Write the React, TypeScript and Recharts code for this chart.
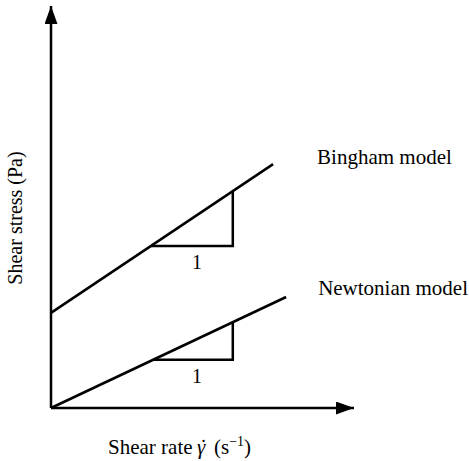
import React from 'react';
import {
  LineChart,
  Line,
  XAxis,
  YAxis,
  ReferenceLine,
  ReferenceDot
} from 'recharts';

// axis extents (arbitrary units, no ticks drawn)
const xDomain = [0, 10];
const yDomain = [0, 13.4];

// Bingham: yield stress + linear viscosity
const binghamX = [0, 7.33];
const binghamY = [3.17, 8.13];

// Newtonian: straight line through the origin
const newtonianX = [0, 7.76];
const newtonianY = [0, 3.7];

// slope triangles (unit run markers)
const binghamTriX = [3.3, 6.0, 6.0];
const binghamTriY = [5.4, 5.4, 7.23];
const newtonianTriX = [3.37, 6.0, 6.0];
const newtonianTriY = [1.61, 1.61, 2.86];

const unitLabelX = 4.82;
const seriesNames = ['Bingham model', 'Newtonian model'];

const toPoints = (xs: number[], ys: number[]) => xs.map((x, i) => ({ x, y: ys[i] }));

const bingham = toPoints(binghamX, binghamY);
const newtonian = toPoints(newtonianX, newtonianY);
const binghamTri = toPoints(binghamTriX, binghamTriY);
const newtonianTri = toPoints(newtonianTriX, newtonianTriY);

const FONT = '"Liberation Serif", "Times New Roman", serif';
const INK = '#000';

const endLabel = (text: string, dx: number, dy: number) => (props: any) => {
  const { viewBox } = props;
  const cx = viewBox.x + viewBox.width / 2;
  const cy = viewBox.y + viewBox.height / 2;
  return (
    <text x={cx + dx} y={cy + dy} fontFamily={FONT} fontSize={21} fill={INK}>
      {text}
    </text>
  );
};

const unitLabel = (props: any) => {
  const { viewBox } = props;
  const cx = viewBox.x + viewBox.width / 2;
  const cy = viewBox.y + viewBox.height / 2;
  return (
    <text x={cx} y={cy + 23} textAnchor="middle" fontFamily={FONT} fontSize={20} fill={INK}>
      1
    </text>
  );
};

// gamma-dot is built from a gamma plus a dot accent set over it
const xTitle = (props: any) => {
  const { viewBox } = props;
  const x0 = viewBox.x + 57;
  return (
    <text x={x0} y={viewBox.y + 46} fontFamily={FONT} fontSize={21} fill={INK}>
      <tspan>Shear rate</tspan>
      <tspan x={x0 + 89} fontStyle="italic">γ</tspan>
      <tspan x={x0 + 92}>˙</tspan>
      <tspan x={x0 + 106}>(s</tspan>
      <tspan dy={-8} fontSize={14}>−1</tspan>
      <tspan dy={8}>)</tspan>
    </text>
  );
};

const yTitle = (props: any) => {
  const { viewBox } = props;
  const x = viewBox.x + 22;
  const y = viewBox.y + 212;
  return (
    <text
      x={x}
      y={y}
      textAnchor="middle"
      transform={`rotate(-90, ${x}, ${y})`}
      fontFamily={FONT}
      fontSize={20}
      fill={INK}
    >
      Shear stress (Pa)
    </text>
  );
};

const App: React.FC = () => {
  return (
    <div style={{ position: 'absolute', left: 0, top: 0, width: 469, height: 461, background: '#fff' }}>
      <LineChart width={469} height={461} margin={{ top: 6, right: 115, left: 0, bottom: 0 }}>
        <defs>
          <marker
            id="arrowHead"
            markerWidth={18}
            markerHeight={13}
            refX={18}
            refY={6.5}
            orient="auto"
            markerUnits="userSpaceOnUse"
          >
            <path d="M0,0 L18,6.5 L0,13 Z" fill={INK} />
          </marker>
        </defs>
        <XAxis
          type="number"
          dataKey="x"
          domain={xDomain}
          tick={false}
          tickLine={false}
          axisLine={false}
          height={53}
          label={{ content: xTitle }}
        />
        <YAxis
          type="number"
          dataKey="y"
          domain={yDomain}
          tick={false}
          tickLine={false}
          axisLine={false}
          width={51}
          label={{ content: yTitle }}
        />
        <ReferenceLine
          segment={[{ x: xDomain[0], y: yDomain[0] }, { x: xDomain[1], y: yDomain[0] }]}
          stroke={INK}
          strokeWidth={2.5}
          markerEnd="url(#arrowHead)"
          ifOverflow="visible"
        />
        <ReferenceLine
          segment={[{ x: xDomain[0], y: yDomain[0] }, { x: xDomain[0], y: yDomain[1] }]}
          stroke={INK}
          strokeWidth={2.5}
          markerEnd="url(#arrowHead)"
          ifOverflow="visible"
        />
        <Line data={bingham} dataKey="y" type="linear" stroke={INK} strokeWidth={2.5} dot={false} isAnimationActive={false} />
        <Line data={newtonian} dataKey="y" type="linear" stroke={INK} strokeWidth={2.5} dot={false} isAnimationActive={false} />
        <Line data={binghamTri} dataKey="y" type="linear" stroke={INK} strokeWidth={2.5} strokeLinejoin="miter" dot={false} isAnimationActive={false} />
        <Line data={newtonianTri} dataKey="y" type="linear" stroke={INK} strokeWidth={2.5} strokeLinejoin="miter" dot={false} isAnimationActive={false} />
        <ReferenceDot
          x={binghamX[1]}
          y={binghamY[1]}
          r={1}
          fill="none"
          stroke="none"
          ifOverflow="visible"
          label={{ content: endLabel(seriesNames[0], 44, 0) }}
        />
        <ReferenceDot
          x={newtonianX[1]}
          y={newtonianY[1]}
          r={1}
          fill="none"
          stroke="none"
          ifOverflow="visible"
          label={{ content: endLabel(seriesNames[1], 32, -2) }}
        />
        <ReferenceDot
          x={unitLabelX}
          y={binghamTriY[0]}
          r={1}
          fill="none"
          stroke="none"
          ifOverflow="visible"
          label={{ content: unitLabel }}
        />
        <ReferenceDot
          x={unitLabelX}
          y={newtonianTriY[0]}
          r={1}
          fill="none"
          stroke="none"
          ifOverflow="visible"
          label={{ content: unitLabel }}
        />
      </LineChart>
    </div>
  );
};

export default App;
